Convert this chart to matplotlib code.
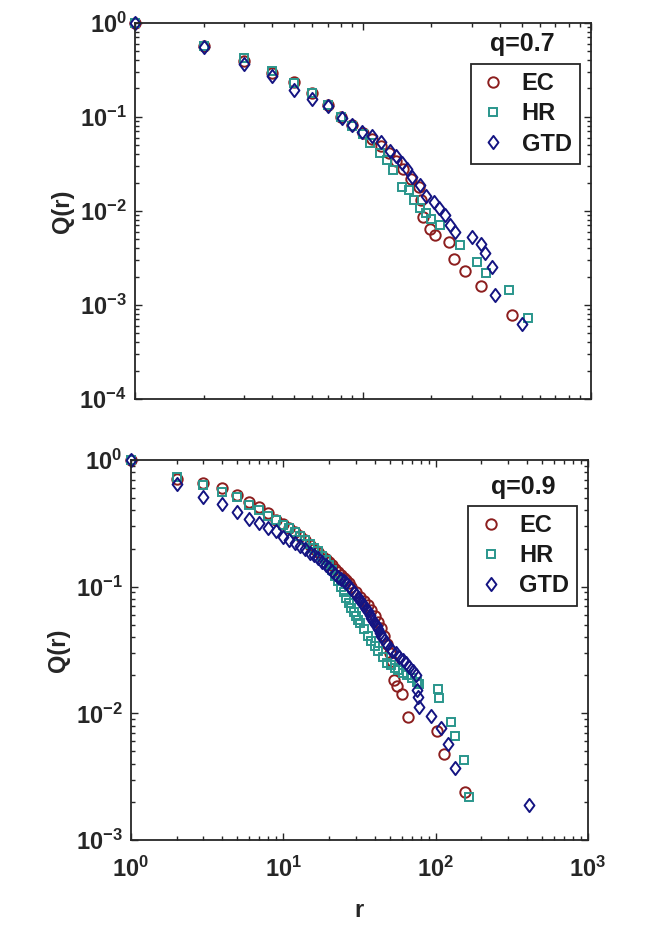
import numpy as np
import matplotlib
matplotlib.use('Agg')
import matplotlib.pyplot as plt
from matplotlib.path import Path

plt.rcParams['font.family'] = ['Liberation Sans', 'DejaVu Sans']
plt.rcParams['font.weight'] = 'bold'
plt.rcParams['mathtext.fontset'] = 'custom'
plt.rcParams['mathtext.rm'] = 'Liberation Sans:bold'
plt.rcParams['mathtext.bf'] = 'Liberation Sans:bold'
plt.rcParams['mathtext.default'] = 'rm'

# ---- q = 0.7 (top panel) ----
ec7_r = [1, 2, 3, 4, 5, 6, 7, 8, 9, 10, 11, 12, 13, 14, 15, 16.2, 17.6, 18, 18.4, 19.8, 20.8, 23.8, 25, 28, 32.9, 45]
ec7_q = [1, 0.56, 0.39, 0.29, 0.236, 0.178, 0.135, 0.1, 0.082, 0.068, 0.058, 0.049, 0.041, 0.034, 0.028,
         0.022, 0.018, 0.013, 0.0087, 0.0064, 0.0055, 0.0047, 0.0031, 0.0023, 0.0016, 0.00079]
hr7_r = [1, 2, 3, 4, 5, 6, 7, 8, 9, 10, 10.8, 11.9, 12.8, 13.6, 14.9, 15.9, 16.7, 17.9, 19, 20, 21.7,
         26.8, 31.8, 34.8, 43.8, 53.1]
hr7_q = [1, 0.56, 0.418, 0.306, 0.23, 0.18, 0.135, 0.1, 0.08, 0.066, 0.0523, 0.041, 0.0347, 0.0272, 0.0181,
         0.0167, 0.013, 0.0107, 0.0094, 0.0082, 0.0071, 0.00434, 0.00289, 0.00217, 0.00144, 0.00072]
gtd7_r = [1, 2, 3, 4, 5, 6, 7, 8.1, 9, 9.9, 11, 12, 13.1, 14, 14.9, 15.6, 16.4, 17.9, 19, 20.5, 21.5,
          22.9, 24.2, 25.5, 30.2, 32.9, 34.3, 37, 37.9, 50.2]
gtd7_q = [1, 0.556, 0.363, 0.271, 0.195, 0.156, 0.13, 0.0964, 0.0818, 0.0695, 0.0625, 0.0536, 0.0436,
          0.038, 0.0325, 0.028, 0.0231, 0.0188, 0.0144, 0.0125, 0.0107, 0.00904, 0.00708, 0.006,
          0.00524, 0.00445, 0.00354, 0.00251, 0.00128, 0.00063]

# ---- q = 0.9 (bottom panel) ----
ec9_r = [1, 2, 3, 4, 5, 6, 7, 8, 9, 10, 11, 12, 13, 14, 15, 16, 17, 18, 19, 20, 21, 22, 23, 24, 25, 26,
         27, 28, 30, 32, 34, 36, 38, 40, 42, 44, 46, 48, 50, 52, 53.5, 55.7, 60, 66, 102, 114, 156]
ec9_q = [1, 0.71, 0.662, 0.6, 0.53, 0.469, 0.423, 0.384, 0.336, 0.31, 0.29, 0.272, 0.252, 0.232, 0.215,
         0.2, 0.188, 0.176, 0.166, 0.157, 0.148, 0.139, 0.131, 0.124, 0.118, 0.112, 0.106, 0.1, 0.091,
         0.083, 0.077, 0.072, 0.065, 0.059, 0.053, 0.047, 0.041, 0.035, 0.03, 0.026, 0.0183, 0.0163,
         0.0142, 0.0094, 0.0072, 0.0048, 0.0024]
hr9_r = [1, 2, 3, 4, 5, 6, 7, 8, 9, 10, 11, 12, 13, 14, 15, 16, 17, 18, 19, 20, 21, 22, 23, 24, 25, 26,
         27, 28, 29, 30, 31, 32, 34, 36, 38, 40, 42, 45, 48, 51, 54, 57, 61, 65, 70, 76, 78, 104, 106,
         126, 134, 153, 166]
hr9_q = [1, 0.73, 0.635, 0.562, 0.507, 0.441, 0.403, 0.361, 0.336, 0.307, 0.29, 0.27, 0.252, 0.235,
         0.218, 0.203, 0.19, 0.176, 0.162, 0.148, 0.135, 0.122, 0.11, 0.1, 0.09, 0.082, 0.075, 0.068,
         0.063, 0.059, 0.055, 0.052, 0.046, 0.041, 0.037, 0.034, 0.031, 0.028, 0.025, 0.024, 0.023,
         0.022, 0.021, 0.0201, 0.019, 0.0178, 0.0172, 0.0155, 0.0133, 0.0086, 0.0066, 0.0043, 0.0022]
gtd9_r = [1, 2, 3, 4, 5, 6, 7, 8, 9, 10, 11, 12, 13, 14, 15, 16, 17, 18, 19, 20, 21, 22, 23, 24, 25, 26,
          27, 28, 29, 30, 31, 32, 33, 34, 35, 36, 37, 38, 39, 40, 41, 42, 43, 44, 45, 47, 50, 52, 55, 58,
          61, 64, 67, 71, 74, 75.4, 76.2, 78, 93, 108, 121, 134, 409]
gtd9_q = [1, 0.647, 0.513, 0.45, 0.391, 0.342, 0.32, 0.289, 0.277, 0.248, 0.235, 0.222, 0.209, 0.197,
          0.186, 0.177, 0.168, 0.158, 0.148, 0.14, 0.132, 0.125, 0.119, 0.114, 0.11, 0.106, 0.101, 0.096,
          0.091, 0.086, 0.082, 0.078, 0.074, 0.07, 0.067, 0.064, 0.06, 0.057, 0.054, 0.051, 0.049, 0.046,
          0.043, 0.041, 0.039, 0.036, 0.033, 0.031, 0.0298, 0.028, 0.0264, 0.025, 0.0233, 0.0215, 0.0201,
          0.0153, 0.0135, 0.0113, 0.0095, 0.0076, 0.0057, 0.0037, 0.0019]

labels = ['EC', 'HR', 'GTD']
colors = ['#8c1e1e', '#2a968c', '#141482']
diamond = Path([(0, 1), (0.75, 0), (0, -1), (-0.75, 0), (0, 1)],
               [Path.MOVETO, Path.LINETO, Path.LINETO, Path.LINETO, Path.CLOSEPOLY])
markers = ['o', 's', diamond]
msizes = [7.5, 5.8, 9.5]

fig = plt.figure(figsize=(6.45, 9.39), dpi=100)
ax1 = fig.add_axes([0.2093, 0.5751, 0.7065, 0.4007])
ax2 = fig.add_axes([0.2026, 0.1054, 0.709, 0.4047])

panels = [
    (ax1, [(ec7_r, ec7_q), (hr7_r, hr7_q), (gtd7_r, gtd7_q)], 'q=0.7', (1, 100), (1e-4, 1),
     (0.9766, 0.890), (0.85, 0.943)),
    (ax2, [(ec9_r, ec9_q), (hr9_r, hr9_q), (gtd9_r, gtd9_q)], 'q=0.9', (1, 1000), (1e-3, 1),
     (0.9766, 0.879), (0.858, 0.929)),
]

for ax, series, qtxt, xl, yl, leg_pos, q_pos in panels:
    for (r, q), lab, c, m, ms in zip(series, labels, colors, markers, msizes):
        ax.plot(r, q, linestyle='none', marker=m, ms=ms, mfc='none', mec=c, mew=1.4,
                label=lab, clip_on=False)
    ax.set_xscale('log')
    ax.set_yscale('log')
    ax.set_xlim(*xl)
    ax.set_ylim(*yl)
    ax.tick_params(which='both', direction='in', top=True, right=True, colors='#262626',
                   labelsize=17, width=1.0)
    ax.tick_params(which='major', length=5, pad=6)
    ax.tick_params(which='minor', length=3)
    for s in ax.spines.values():
        s.set_linewidth(1.3)
        s.set_color('#262626')
    ax.set_ylabel('Q(r)', fontsize=17, fontweight='bold', color='#262626', labelpad=4)
    leg = ax.legend(loc='upper right', bbox_to_anchor=leg_pos, fontsize=17, frameon=True,
                    fancybox=False, edgecolor='#262626', framealpha=1, borderpad=0.35,
                    handletextpad=0.6, handlelength=1.2, labelspacing=0.3, borderaxespad=0)
    leg.get_frame().set_linewidth(1.3)
    for t in leg.get_texts():
        t.set_fontweight('bold')
        t.set_color('#1a1a1a')
    ax.text(q_pos[0], q_pos[1], qtxt, transform=ax.transAxes, fontsize=18, fontweight='bold',
            ha='center', va='center', color='#1a1a1a')

ax1.tick_params(axis='x', which='both', labelbottom=False)
ax2.tick_params(axis='x', which='major', pad=12)
ax2.set_xlabel('r', fontsize=17, fontweight='bold', color='#262626', labelpad=12)

fig.savefig('out.png', dpi=100)
